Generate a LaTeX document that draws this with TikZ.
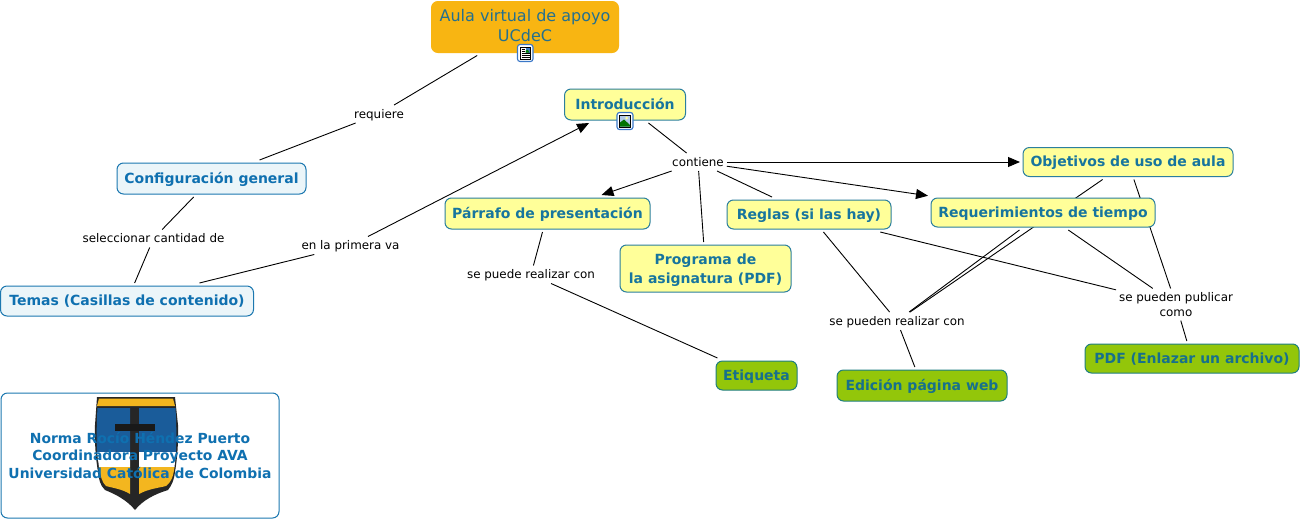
\documentclass[tikz,border=0pt]{standalone}
\usepackage{fontspec}
\setmainfont{DejaVu Sans}
\usetikzlibrary{arrows.meta,backgrounds}
\definecolor{aulafill}{HTML}{F8B512}
\definecolor{aulatext}{HTML}{24708F}
\definecolor{yelfill}{HTML}{FFFF99}
\definecolor{yelline}{HTML}{2B7F9E}
\definecolor{yeltext}{HTML}{17759E}
\definecolor{palefill}{HTML}{EBF5F9}
\definecolor{paleline}{HTML}{1C78B0}
\definecolor{paletext}{HTML}{0F70B0}
\definecolor{greenfill}{HTML}{93C60A}
\definecolor{greenline}{HTML}{1F7F80}
\definecolor{greentext}{HTML}{17708C}
\definecolor{iconblue}{HTML}{3B78C8}
\definecolor{shblue}{HTML}{1A5C9A}
\definecolor{shyellow}{HTML}{F3B61F}
\tikzset{
  x=1pt,y=-1pt,
  concept/.style={rounded corners=6.5pt,inner sep=0pt,outer sep=3pt,line width=1pt,
    font=\fontsize{14}{19}\selectfont\bfseries},
  oneline/.style={text height=11.5pt,text depth=2pt},
  aulabox/.style={concept,fill=aulafill,draw=aulafill,text=aulatext,
    font=\fontsize{16}{19.5}\selectfont},
  yelbox/.style={concept,fill=yelfill,draw=yelline,text=yeltext},
  palebox/.style={concept,fill=palefill,draw=paleline,text=paletext},
  greenbox/.style={concept,fill=greenfill,draw=greenline,text=greentext},
  linkword/.style={inner xsep=2pt,inner ysep=3pt,outer sep=1pt,text=black,
    font=\fontsize{11.9}{15}\selectfont},
  oneword/.style={text height=9pt,text depth=1pt},
  link/.style={draw=black,line width=0.9pt},
  arrowlink/.style={link,-{Triangle[length=12pt,width=10pt]}},
  iconbox/.style={fill=white,draw=iconblue,line width=1.1pt,rounded corners=2.5pt},
}
\begin{document}
\begin{tikzpicture}
\useasboundingbox (0,0) rectangle (1301,520);
% concepts
\node[aulabox,align=center,minimum width=187pt,minimum height=51pt] (aula) at (525,27) {Aula virtual de apoyo\\UCdeC\rule[-3pt]{0pt}{0pt}};
\node[yelbox,oneline,minimum width=121pt,minimum height=31pt] (intro) at (625,104.5) {Introducción};
\node[palebox,oneline,minimum width=189pt,minimum height=31pt] (config) at (211.5,178.5) {Configuración general};
\node[palebox,oneline,minimum width=253pt,minimum height=30pt] (temas) at (127,301) {Temas (Casillas de contenido)};
\node[yelbox,oneline,minimum width=205pt,minimum height=31pt] (parrafo) at (547.5,213.5) {Párrafo de presentación};
\node[yelbox,align=center,minimum width=171pt,minimum height=47pt] (programa) at (705.5,268.5) {\rule{0pt}{14pt}Programa de\\la asignatura (PDF)};
\node[yelbox,oneline,minimum width=164pt,minimum height=29pt] (reglas) at (809,214.5) {Reglas (si las hay)};
\node[yelbox,oneline,minimum width=224pt,minimum height=29pt] (reque) at (1043,212.5) {Requerimientos de tiempo};
\node[yelbox,oneline,minimum width=210pt,minimum height=29pt] (objet) at (1128,162) {Objetivos de uso de aula};
\node[greenbox,oneline,minimum width=81pt,minimum height=29pt] (etiq) at (756.5,375.5) {Etiqueta};
\node[greenbox,oneline,minimum width=170pt,minimum height=31pt] (edicion) at (922,385.5) {Edición página web};
\node[greenbox,oneline,minimum width=214pt,minimum height=29pt] (pdf) at (1192,358.5) {PDF (Enlazar un archivo)};
% link words
\node[linkword,oneword] (requiere) at (379,114) {requiere};
\node[linkword,oneword] (selec) at (153.5,238.5) {seleccionar cantidad de};
\node[linkword,oneword] (primera) at (350.5,245.5) {en la primera va};
\node[linkword,oneword] (contiene) at (698,162) {contiene};
\node[linkword,oneword] (srealiza) at (531,274.5) {se puede realizar con};
\node[linkword,oneword] (sprealizan) at (897,321) {se pueden realizar con};
\node[linkword,align=center] (publicar) at (1176,304.5) {se pueden publicar\\como};
% connectors behind the boxes
\begin{scope}[on background layer]
\fill[white] (0,0) rectangle (1301,520);
\draw[link] (aula) -- (requiere);
\draw[link] (requiere) -- (config);
\draw[link] (config) -- (selec);
\draw[link] (selec) -- (temas);
\draw[link] (temas) -- (primera);
\draw[arrowlink] (primera) -- (intro);
\draw[link] (intro) -- (contiene);
\draw[arrowlink] (contiene) -- (objet);
\draw[arrowlink] (contiene) -- (parrafo);
\draw[arrowlink] (contiene) -- (reque);
\draw[link] (contiene) -- (reglas);
\draw[link] (contiene) -- (programa);
\draw[link] (parrafo) -- (srealiza);
\draw[link] (srealiza) -- (etiq);
\draw[link] (reglas) -- (sprealizan);
\draw[link] (reque) -- (sprealizan);
\draw[link] (objet) -- (sprealizan);
\draw[link] (sprealizan) -- (edicion);
\draw[link] (reglas) -- (publicar);
\draw[link] (reque) -- (publicar);
\draw[link] (objet) -- (publicar);
\draw[link] (publicar) -- (pdf);
\end{scope}
% resource icon on Aula
\draw[iconbox] (517.5,44.5) rectangle (533,61.5);
\draw[black,line width=0.9pt,fill=white] (520,47) rectangle (530.5,59);
\fill[iconblue] (525.5,48) rectangle (529.5,52.5);
\fill[green!50!black] (525.5,51) -- (527.5,49.5) -- (529.5,52.5) -- (525.5,52.5) -- cycle;
\draw[black,line width=0.7pt] (521.5,49) -- (524.5,49) (521.5,51) -- (524.5,51) (521.5,53.5) -- (529.5,53.5) (521.5,55.5) -- (529.5,55.5) (521.5,57.5) -- (529.5,57.5);
% resource icon on Introduccion
\draw[iconbox] (617,112.5) rectangle (633,129.5);
\draw[black,line width=0.9pt,fill=white!60!iconblue] (619.5,115) rectangle (630.5,127);
\fill[yelfill] (626.5,118) circle (1.5pt);
\fill[green!45!black] (620,126.5) -- (620,122.5) -- (624,119.5) -- (630,125) -- (630,126.5) -- cycle;
% shield
\fill[black!85] (97,397) -- (175,397) -- (178,425) .. controls (178.5,445) and (177,460) .. (175,472) .. controls (174,480) and (172,485) .. (168,490) .. controls (155,494) and (143,500) .. (135,510) .. controls (127,500) and (115,494) .. (105,490) .. controls (100,485) and (99,480) .. (98,472) .. controls (96,460) and (94.5,445) .. (95,425) -- cycle;
\fill[shyellow] (99,398.5) -- (173,398.5) -- (175,406) -- (97,406) -- cycle;
\fill[shblue] (97.5,408) -- (130,408) -- (130,452) -- (97,452) .. controls (96.5,440) and (96.5,425) .. (97.5,408) -- cycle;
\fill[shblue] (139,408) -- (175.5,408) .. controls (176.5,425) and (176.5,440) .. (176,452) -- (139,452) -- cycle;
\fill[white] (97,452) -- (130,452) -- (130,467) -- (99,467) -- cycle;
\fill[white] (139,452) -- (176,452) -- (174.5,467) -- (139,467) -- cycle;
\fill[shyellow] (99,467) -- (130,467) -- (130,494) .. controls (122,489) and (113,488) .. (106,486) .. controls (102,482) and (101,478) .. (99,467) -- cycle;
\fill[shyellow] (139,467) -- (174.5,467) .. controls (173,478) and (171,482) .. (166,486) .. controls (158,488) and (148,489) .. (139,494) -- cycle;
\fill[black!90] (115,424) rectangle (155,430.5);
% note box
\node[palebox,fill=none,align=center,minimum width=278pt,minimum height=125pt,font=\fontsize{13.9}{17.2}\selectfont\bfseries] (note) at (140,455.5) {Norma Rocío Héndez Puerto\\Coordinadora Proyecto AVA\\Universidad Católica de Colombia};
\end{tikzpicture}
\end{document}
